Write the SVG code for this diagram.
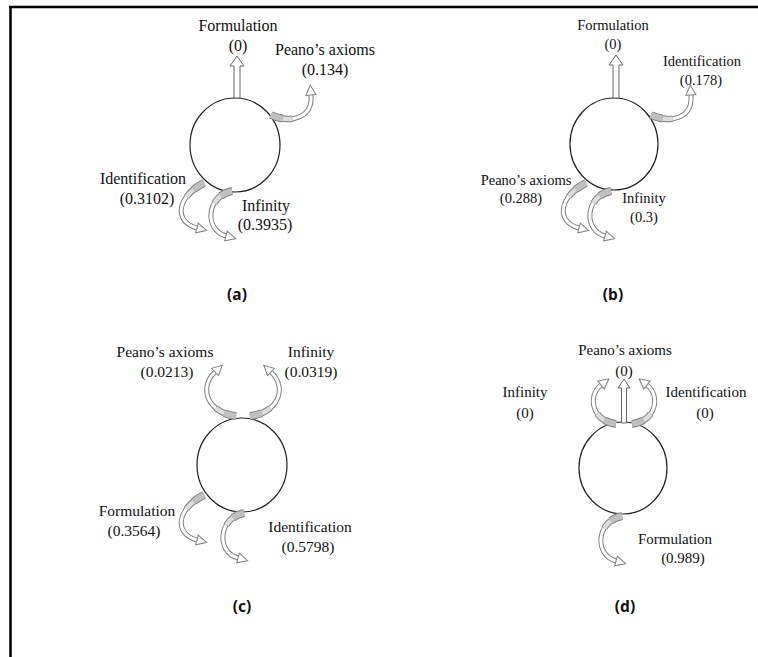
<svg xmlns="http://www.w3.org/2000/svg" xmlns:xlink="http://www.w3.org/1999/xlink" width="758" height="657" viewBox="0 0 758 657">
<style>
.t{font-family:"Liberation Serif","Times New Roman",serif;text-anchor:middle;fill:#111}
.ta{font-size:16px}
.tb{font-size:14.5px}
.tc{font-size:15.5px}
.td{font-size:15px}
.cap{font-family:"Noto Sans","DejaVu Sans",sans-serif;font-weight:bold;font-size:15.5px;text-anchor:middle;fill:#111}
.node{fill:#fff;stroke:#222;stroke-width:1.2}
.sa{fill:#fff;stroke:#666;stroke-width:1}
.ao{fill:none;stroke:#808080;stroke-width:5}
.ai{fill:none;stroke:#fff;stroke-width:3;marker-end:url(#ah)}
.mo{fill:none;stroke:#808080;stroke-width:6.5;stroke-dasharray:22 400}
.mi{fill:none;stroke:#dcdcdc;stroke-width:4.5;stroke-dasharray:22 400}
.so{fill:none;stroke:#808080;stroke-width:8;stroke-dasharray:12 400}
.si{fill:none;stroke:#c0c0c0;stroke-width:6;stroke-dasharray:12 400}
.frame{stroke:#000;stroke-width:2.5}
</style>
<defs>
<marker id="ah" markerUnits="userSpaceOnUse" markerWidth="14" markerHeight="14" viewBox="0 0 14 14" refX="2" refY="7" orient="auto">
<path d="M2,2 L12,7 L2,12 Z" fill="#fff" stroke="#808080" stroke-width="1"/>
</marker>
<path id="pa1" d="M271,115 C288,123 313,120 311,95"/>
<path id="pa2" d="M204,183 C176,197 174,222 197,228"/>
<path id="pa3" d="M232,191 C206,196 204,230 226,236"/>
<path id="pc1" d="M236,416 C208,413 198,388 215,372"/>
<path id="pc3" d="M204,495 C176,509 174,534 197,540"/>
<path id="pc4" d="M244,513 C218,518 216,552 238,558"/>
<path id="pd1" d="M616,424 C592,421 587,396 601,385"/>
<path id="pd3" d="M622,516 C596,521 594,555 616,561"/>
</defs>

<g id="frame">
<line class="frame" x1="9" y1="7" x2="758" y2="7"/>
<line class="frame" x1="10.5" y1="6" x2="10.5" y2="657"/>
</g>

<!-- Panel (a) -->
<g id="panel-a">
<g id="node-a"><ellipse class="node" cx="235" cy="145" rx="45" ry="47"/></g>
<g id="connectors-a">
<path class="sa" d="M234,98 L234,66 L230,66 L237,56 L244,66 L240,66 L240,98 Z"/>
<g><use href="#pa1" class="ao"/><use href="#pa1" class="ai"/><use href="#pa1" class="mo"/><use href="#pa1" class="mi"/><use href="#pa1" class="so"/><use href="#pa1" class="si"/></g>
<g><use href="#pa2" class="ao"/><use href="#pa2" class="ai"/><use href="#pa2" class="mo"/><use href="#pa2" class="mi"/><use href="#pa2" class="so"/><use href="#pa2" class="si"/></g>
<g><use href="#pa3" class="ao"/><use href="#pa3" class="ai"/><use href="#pa3" class="mo"/><use href="#pa3" class="mi"/><use href="#pa3" class="so"/><use href="#pa3" class="si"/></g>
</g>
<g id="label-a-formulation"><text class="t ta" x="238" y="31">Formulation</text><text class="t ta" x="238" y="51">(0)</text></g>
<g id="label-a-peano"><text class="t ta" x="325" y="55">Peano’s axioms</text><text class="t ta" x="325" y="75">(0.134)</text></g>
<g id="label-a-identification"><text class="t ta" x="143" y="184">Identification</text><text class="t ta" x="147" y="204">(0.3102)</text></g>
<g id="label-a-infinity"><text class="t ta" x="266" y="211">Infinity</text><text class="t ta" x="265" y="230">(0.3935)</text></g>
<text class="cap" x="237" y="300">(a)</text>
</g>

<!-- Panel (b) -->
<g id="panel-b">
<g id="node-b"><ellipse class="node" cx="614" cy="144" rx="44" ry="46"/></g>
<g id="connectors-b">
<path class="sa" d="M613,98 L613,65 L609,65 L616,55 L623,65 L619,65 L619,98 Z"/>
<g transform="translate(380,0)"><use href="#pa1" class="ao"/><use href="#pa1" class="ai"/><use href="#pa1" class="mo"/><use href="#pa1" class="mi"/><use href="#pa1" class="so"/><use href="#pa1" class="si"/></g>
<g transform="translate(382,0)"><use href="#pa2" class="ao"/><use href="#pa2" class="ai"/><use href="#pa2" class="mo"/><use href="#pa2" class="mi"/><use href="#pa2" class="so"/><use href="#pa2" class="si"/></g>
<g transform="translate(379,0)"><use href="#pa3" class="ao"/><use href="#pa3" class="ai"/><use href="#pa3" class="mo"/><use href="#pa3" class="mi"/><use href="#pa3" class="so"/><use href="#pa3" class="si"/></g>
</g>
<g id="label-b-formulation"><text class="t tb" x="613" y="30">Formulation</text><text class="t tb" x="613" y="49">(0)</text></g>
<g id="label-b-identification"><text class="t tb" x="702" y="66">Identification</text><text class="t tb" x="701" y="85">(0.178)</text></g>
<g id="label-b-peano"><text class="t tb" x="526" y="185">Peano’s axioms</text><text class="t tb" x="521" y="203">(0.288)</text></g>
<g id="label-b-infinity"><text class="t tb" x="644" y="203">Infinity</text><text class="t tb" x="644" y="222">(0.3)</text></g>
<text class="cap" x="613" y="300">(b)</text>
</g>

<!-- Panel (c) -->
<g id="panel-c">
<g id="node-c"><ellipse class="node" cx="242" cy="465" rx="45" ry="47"/></g>
<g id="connectors-c">
<g><use href="#pc1" class="ao"/><use href="#pc1" class="ai"/><use href="#pc1" class="mo"/><use href="#pc1" class="mi"/><use href="#pc1" class="so"/><use href="#pc1" class="si"/></g>
<g transform="translate(486,0) scale(-1,1)"><use href="#pc1" class="ao"/><use href="#pc1" class="ai"/><use href="#pc1" class="mo"/><use href="#pc1" class="mi"/><use href="#pc1" class="so"/><use href="#pc1" class="si"/></g>
<g><use href="#pc3" class="ao"/><use href="#pc3" class="ai"/><use href="#pc3" class="mo"/><use href="#pc3" class="mi"/><use href="#pc3" class="so"/><use href="#pc3" class="si"/></g>
<g><use href="#pc4" class="ao"/><use href="#pc4" class="ai"/><use href="#pc4" class="mo"/><use href="#pc4" class="mi"/><use href="#pc4" class="so"/><use href="#pc4" class="si"/></g>
</g>
<g id="label-c-peano"><text class="t tc" x="165" y="357">Peano’s axioms</text><text class="t tc" x="167" y="377">(0.0213)</text></g>
<g id="label-c-infinity"><text class="t tc" x="311" y="357">Infinity</text><text class="t tc" x="311" y="377">(0.0319)</text></g>
<g id="label-c-formulation"><text class="t tc" x="137" y="516">Formulation</text><text class="t tc" x="134" y="536">(0.3564)</text></g>
<g id="label-c-identification"><text class="t tc" x="310" y="532">Identification</text><text class="t tc" x="308" y="552">(0.5798)</text></g>
<text class="cap" x="242" y="612">(c)</text>
</g>

<!-- Panel (d) -->
<g id="panel-d">
<g id="node-d"><ellipse class="node" cx="623" cy="468" rx="44" ry="46"/></g>
<g id="connectors-d">
<g><use href="#pd1" class="ao"/><use href="#pd1" class="ai"/><use href="#pd1" class="mo"/><use href="#pd1" class="mi"/><use href="#pd1" class="so"/><use href="#pd1" class="si"/></g>
<g transform="translate(1248,0) scale(-1,1)"><use href="#pd1" class="ao"/><use href="#pd1" class="ai"/><use href="#pd1" class="mo"/><use href="#pd1" class="mi"/><use href="#pd1" class="so"/><use href="#pd1" class="si"/></g>
<path class="sa" d="M621.5,423 L621.5,388 L618,388 L624,379 L630,388 L626.5,388 L626.5,423 Z"/>
<g><use href="#pd3" class="ao"/><use href="#pd3" class="ai"/><use href="#pd3" class="mo"/><use href="#pd3" class="mi"/><use href="#pd3" class="so"/><use href="#pd3" class="si"/></g>
</g>
<g id="label-d-peano"><text class="t td" x="625" y="355">Peano’s axioms</text><text class="t td" x="624" y="376">(0)</text></g>
<g id="label-d-infinity"><text class="t td" x="525" y="397">Infinity</text><text class="t td" x="525" y="418">(0)</text></g>
<g id="label-d-identification"><text class="t td" x="706" y="397">Identification</text><text class="t td" x="705" y="418">(0)</text></g>
<g id="label-d-formulation"><text class="t td" x="675" y="544">Formulation</text><text class="t td" x="683" y="563">(0.989)</text></g>
<text class="cap" x="625" y="612">(d)</text>
</g>
</svg>
